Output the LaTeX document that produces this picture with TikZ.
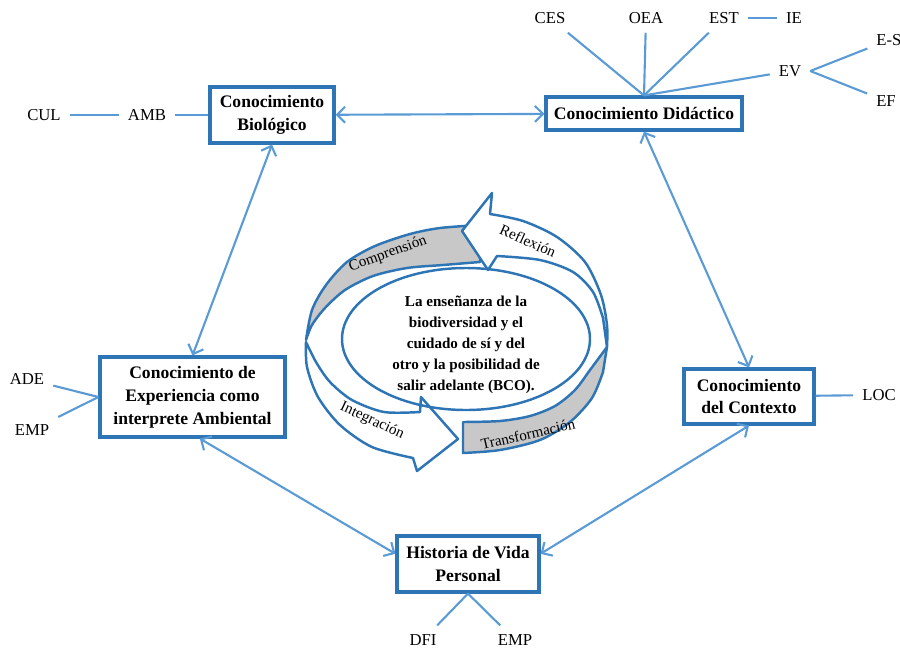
\documentclass[tikz,border=0pt]{standalone}
\usepackage{fontspec}
\setmainfont{Liberation Serif}
\usetikzlibrary{arrows.meta, positioning}
\definecolor{boxblue}{RGB}{46,117,182}
\definecolor{linkblue}{RGB}{91,155,213}
\definecolor{ringgray}{RGB}{200,200,200}

\begin{document}
\begin{tikzpicture}[
    x=0.02cm, y=-0.02cm,
    box/.style={draw=boxblue, line width=1.8pt, fill=white, align=center, inner sep=2pt, font=\fontsize{10}{13}\selectfont\bfseries},
    leaf/.style={inner sep=5pt, font=\fontsize{9.5}{11}\selectfont},
    link/.style={draw=linkblue, line width=1.2pt},
    flow/.style={link, {Straight Barb[length=1.6mm, width=3.2mm]}-{Straight Barb[length=1.6mm, width=3.2mm]}},
    band/.style={draw=boxblue, line width=1.4pt, line join=round},
    tag/.style={inner sep=0.5pt, font=\fontsize{8.6}{10}\selectfont}
]
\useasboundingbox (0,0) rectangle (900,650);

% cuadros principales
\node[box, minimum width=2.48cm, minimum height=1.12cm] (bio) at (272,115) {Conocimiento\\Biológico};
\node[box, minimum width=3.92cm, minimum height=0.66cm] (didac) at (644,113.5) {Conocimiento Didáctico};
\node[box, minimum width=3.7cm, minimum height=1.6cm] (exper) at (192.5,397) {Conocimiento de\\Experiencia como\\interprete Ambiental};
\node[box, minimum width=2.6cm, minimum height=1.1cm] (ctx) at (749,396.5) {Conocimiento\\del Contexto};
\node[box, minimum width=2.84cm, minimum height=1.12cm] (histo) at (468,564) {Historia de Vida\\Personal};

% etiquetas
\node[leaf] (cul) at (44,115) {CUL};
\node[leaf] (amb) at (147,115) {AMB};
\node[leaf] (ces) at (550,18) {CES};
\node[leaf] (oea) at (646,18) {OEA};
\node[leaf] (est) at (724,18) {EST};
\node[leaf] (ie) at (794,18) {IE};
\node[leaf] (ev) at (790,71) {EV};
\node[leaf] (es) at (889,40) {E-S};
\node[leaf] (ef) at (886,101) {EF};
\node[leaf] (ade) at (27,379) {ADE};
\node[leaf] (emp) at (32,430) {EMP};
\node[leaf] (loc) at (879,395) {LOC};
\node[leaf] (dfi) at (423,640) {DFI};
\node[leaf] (emp2) at (515,640) {EMP};

\draw[link] (cul) -- (amb);
\draw[link] (amb) -- (bio);
\draw[link] (didac.north) -- (ces);
\draw[link] (didac.north) -- (oea);
\draw[link] (didac.north) -- (est);
\draw[link] (didac.north) -- (ev);
\draw[link] (est) -- (ie);
\draw[link] (ev.east) -- (es);
\draw[link] (ev.east) -- (ef);
\draw[link] (ade) -- (exper.west);
\draw[link] (emp) -- (exper.west);
\draw[link] (ctx) -- (loc);
\draw[link] (histo.south) -- (dfi);
\draw[link] (histo.south) -- (emp2);

\draw[flow] (bio) -- (didac);
\draw[flow] (bio.south) -- (exper.north);
\draw[flow] (didac.south) -- (ctx.north);
\draw[flow] (exper.-80) -- (histo.172);
\draw[flow] (ctx.south) -- (histo.8);

% ciclo central
\filldraw[band, fill=ringgray] plot[smooth] coordinates {(306,340) (312,310) (326,285) (347,262) (375,246) (410,234) (440,228) (480,225)}
    -- plot[smooth] coordinates {(480,262) (443,265) (407,268) (373,276) (345,290) (325,308) (312,325) (306,340)} -- cycle;
\filldraw[band, fill=white] (462,231) -- (492,193)
    -- plot[smooth] coordinates {(490,214) (523,221) (557,237) (585,262) (601,295) (607,325) (607,347)}
    -- plot[smooth] coordinates {(603,318) (593,292) (573,272) (540,260) (497,256)} -- (488,270) -- cycle;
\filldraw[band, fill=ringgray] plot[smooth] coordinates {(463,422) (500,421) (530,416) (555,406) (575,390) (590,370) (607,347)}
    -- plot[smooth] coordinates {(603,372) (592,398) (570,422) (540,440) (500,450) (463,453)} -- cycle;
\filldraw[band, fill=white] plot[smooth] coordinates {(306,342) (307,367) (318,397) (340,425) (372,447) (413,458)}
    -- (417,471) -- (458,439) -- (421,397)
    -- plot[smooth] coordinates {(420,412) (384,412) (352,400) (330,382) (316,362) (306,342)} -- cycle;
\draw[band] (466,339) ellipse [x radius=124, y radius=71];

\node[tag, rotate=20] (compr) at (388,254) {Comprensión};
\node[tag, rotate=-24] (refl) at (528,241) {Reflexión};
\node[tag, rotate=-25] (integ) at (372,421) {Integración};
\node[tag, rotate=13] (transf) at (528,434) {Transformación};
\node[align=center, font=\fontsize{8.6}{12}\selectfont\bfseries] (bco) at (466,345) {La enseñanza de la\\biodiversidad y el\\cuidado de sí y del\\otro y la posibilidad de\\salir adelante (BCO).};
\end{tikzpicture}
\end{document}
